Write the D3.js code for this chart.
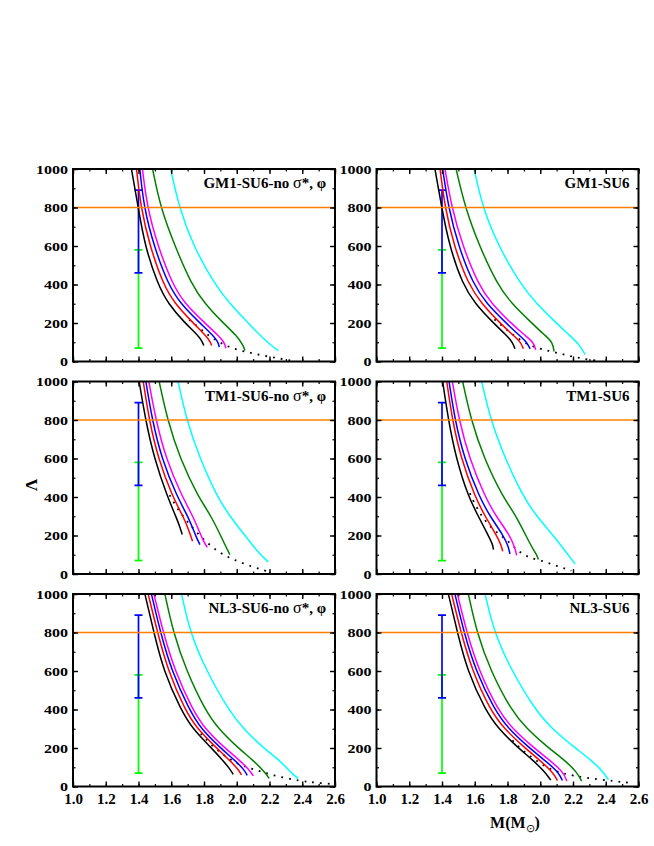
<!DOCTYPE html>
<html>
<head>
<meta charset="utf-8">
<script src="https://cdn.jsdelivr.net/npm/d3@7"></script>
<style>
  html, body { margin: 0; padding: 0; background: #fff; }
  svg { display: block; }
  text { font-family: "Liberation Serif", "Times New Roman", serif; font-weight: bold; fill: #000; }
</style>
</head>
<body>
<script>
// ---------------- DATA ----------------
// Series order: black, red, blue, magenta, dark green, cyan ; each point = [M (Msun), Lambda]
const seriesColors = ["#000000", "#ff0000", "#0000ff", "#ff00ff", "#008000", "#00ffff"];

const panelTitles = [
  ["GM1-SU6-no ", "σ", "*, φ"], ["GM1-SU6"],
  ["TM1-SU6-no ", "σ", "*, φ"], ["TM1-SU6"],
  ["NL3-SU6-no ", "σ", "*, φ"], ["NL3-SU6"]
];

const gm1NoCurves = [
  [[1.357,1000],[1.398,800],[1.439,600],[1.518,400],[1.581,300],[1.683,200],[1.765,135],[1.791,101],[1.799,83]],
  [[1.388,1000],[1.414,800],[1.469,600],[1.551,400],[1.622,300],[1.734,200],[1.811,135],[1.840,101],[1.846,83]],
  [[1.408,1000],[1.433,800],[1.494,600],[1.581,400],[1.657,300],[1.775,200],[1.856,135],[1.887,101],[1.893,75]],
  [[1.424,1000],[1.453,800],[1.518,600],[1.608,400],[1.683,300],[1.805,200],[1.887,135],[1.923,101],[1.934,69]],
  [[1.486,1000],[1.534,800],[1.622,600],[1.724,400],[1.805,300],[1.917,200],[1.999,135],[2.040,83],[2.050,57]],
  [[1.596,1000],[1.648,800],[1.734,600],[1.866,400],[1.958,300],[2.070,200],[2.162,118],[2.223,75],[2.253,57]]
];
const gm1NoDotted = [[1.71,217],[1.77,175],[1.82,140],[1.87,112],[1.92,88],[1.97,70],[2.02,57],[2.07,48],[2.12,38],[2.18,28],[2.24,19],[2.30,9],[2.36,2]];

const gm1Curves = [
  [[1.357,1000],[1.398,800],[1.445,600],[1.526,400],[1.602,300],[1.714,200],[1.795,135],[1.830,101],[1.846,66]],
  [[1.388,1000],[1.418,800],[1.473,600],[1.561,400],[1.642,300],[1.754,200],[1.836,135],[1.881,101],[1.897,66]],
  [[1.404,1000],[1.439,800],[1.500,600],[1.591,400],[1.673,300],[1.791,200],[1.873,135],[1.917,101],[1.938,66]],
  [[1.418,1000],[1.459,800],[1.526,600],[1.622,400],[1.703,300],[1.820,200],[1.907,135],[1.958,101],[1.972,61]],
  [[1.486,1000],[1.541,800],[1.628,600],[1.738,400],[1.826,300],[1.948,200],[2.029,135],[2.076,101],[2.084,52]],
  [[1.596,1000],[1.648,800],[1.744,600],[1.881,400],[1.978,300],[2.097,200],[2.182,135],[2.243,83],[2.274,36]]
];
const gm1Dotted = [[1.72,219],[1.775,179],[1.826,144],[1.881,109],[1.938,83],[1.999,66],[2.05,56],[2.10,45],[2.15,36],[2.20,24],[2.25,17],[2.30,9],[2.355,3]];

const tm1NoCurves = [
  [[1.404,1000],[1.443,800],[1.496,600],[1.577,400],[1.628,300],[1.657,235],[1.667,205]],
  [[1.429,1000],[1.465,800],[1.520,600],[1.608,400],[1.673,300],[1.710,222],[1.730,170]],
  [[1.445,1000],[1.484,800],[1.541,600],[1.636,400],[1.703,300],[1.754,188],[1.775,153]],
  [[1.463,1000],[1.506,800],[1.567,600],[1.667,400],[1.734,300],[1.795,170],[1.820,139]],
  [[1.526,1000],[1.577,800],[1.653,600],[1.765,400],[1.846,300],[1.927,153],[1.958,101]],
  [[1.642,1000],[1.693,800],[1.775,600],[1.881,400],[1.958,300],[2.050,200],[2.141,101],[2.192,63]]
];
const tm1NoDotted = [[1.59,410],[1.63,350],[1.68,290],[1.73,240],[1.78,195],[1.83,155],[1.88,120],[1.93,95],[1.98,75],[2.04,55],[2.10,36],[2.15,23],[2.19,14]];

const tm1Curves = [
  [[1.404,1000],[1.439,800],[1.486,600],[1.561,400],[1.622,300],[1.683,200],[1.710,153],[1.714,127]],
  [[1.429,1000],[1.463,800],[1.516,600],[1.602,400],[1.663,300],[1.734,200],[1.760,153],[1.771,118]],
  [[1.443,1000],[1.479,800],[1.536,600],[1.628,400],[1.693,300],[1.775,200],[1.805,144],[1.815,104]],
  [[1.463,1000],[1.504,800],[1.567,600],[1.663,400],[1.730,300],[1.815,200],[1.846,135],[1.856,97]],
  [[1.526,1000],[1.577,800],[1.657,600],[1.771,400],[1.856,300],[1.938,153],[1.978,101],[1.989,75]],
  [[1.642,1000],[1.697,800],[1.785,600],[1.897,400],[1.978,300],[2.080,200],[2.162,109],[2.213,52]]
];
const tm1Dotted = [[1.57,420],[1.61,345],[1.65,292],[1.70,240],[1.76,200],[1.81,165],[1.85,132],[1.89,104],[1.94,83],[2.03,64],[2.09,45],[2.15,28],[2.19,17]];

const nl3NoCurves = [
  [[1.439,1000],[1.494,800],[1.553,600],[1.658,400],[1.730,300],[1.846,200],[1.915,135],[1.958,92],[1.978,63]],
  [[1.459,1000],[1.516,800],[1.581,600],[1.683,400],[1.758,300],[1.877,200],[1.958,135],[2.009,89],[2.029,60]],
  [[1.479,1000],[1.534,800],[1.602,600],[1.710,400],[1.781,300],[1.901,200],[1.989,135],[2.044,89],[2.064,58]],
  [[1.494,1000],[1.551,800],[1.622,600],[1.730,400],[1.805,300],[1.927,200],[2.019,135],[2.080,83],[2.101,55]],
  [[1.561,1000],[1.612,800],[1.693,600],[1.805,400],[1.887,300],[2.009,200],[2.101,135],[2.172,75],[2.198,42]],
  [[1.663,1000],[1.714,800],[1.815,600],[1.948,400],[2.040,300],[2.162,200],[2.264,135],[2.345,60],[2.376,42]]
];
const nl3NoDotted = [[1.78,275],[1.84,220],[1.90,175],[1.96,140],[2.02,112],[2.08,95],[2.14,80],[2.20,63],[2.29,45],[2.38,31],[2.45,23],[2.51,17],[2.59,13]];

const nl3Curves = [
  [[1.439,1000],[1.494,800],[1.555,600],[1.663,400],[1.744,300],[1.866,200],[1.958,135],[2.029,75],[2.064,33]],
  [[1.459,1000],[1.516,800],[1.585,600],[1.693,400],[1.779,300],[1.907,200],[1.999,135],[2.076,75],[2.105,31]],
  [[1.479,1000],[1.534,800],[1.606,600],[1.720,400],[1.805,300],[1.934,200],[2.029,135],[2.111,75],[2.135,31]],
  [[1.494,1000],[1.551,800],[1.626,600],[1.740,400],[1.830,300],[1.962,200],[2.060,135],[2.141,75],[2.162,28]],
  [[1.561,1000],[1.612,800],[1.697,600],[1.820,400],[1.917,300],[2.050,200],[2.152,135],[2.223,75],[2.253,28]],
  [[1.663,1000],[1.718,800],[1.826,600],[1.968,400],[2.070,300],[2.213,200],[2.314,135],[2.386,75],[2.416,35]]
];
const nl3Dotted = [[1.83,240],[1.89,188],[1.96,144],[2.02,109],[2.08,83],[2.14,68],[2.20,57],[2.28,45],[2.37,36],[2.45,28],[2.51,22],[2.57,17]];

const panelCurves = [gm1NoCurves, gm1Curves, tm1NoCurves, tm1Curves, nl3NoCurves, nl3Curves];
const panelDotted = [gm1NoDotted, gm1Dotted, tm1NoDotted, tm1Dotted, nl3NoDotted, nl3Dotted];

// constraints at M = 1.4: [low, high]
const errorBarMass = 1.4;
const errorBarRanges = [[70, 580], [460, 890]];
const errorBarColors = ["#00ff00", "#0000ff"];
const refLambda = 800;
const refColor = "#ff8000";

const xDomain = [1.0, 2.6];
const yDomain = [0, 1000];
const xMajorTicks = [1.0, 1.2, 1.4, 1.6, 1.8, 2.0, 2.2, 2.4, 2.6];
const yMajorTicks = [0, 200, 400, 600, 800, 1000];

// ---------------- LAYOUT ----------------
const W = 654, H = 846;
const colX = [73, 376.5];
const rowY = [169, 381.5, 594];
const pw = 262, ph = 192.5;

const svg = d3.select("body").append("svg").attr("width", W).attr("height", H);

const x = d3.scaleLinear().domain(xDomain).range([0, pw]);
const y = d3.scaleLinear().domain(yDomain).range([ph, 0]);
const xMinor = d3.range(1.0, 2.6001, 0.1).map(v => +v.toFixed(1));
const yMinor = d3.range(0, 1001, 100);

const line = d3.line().x(d => x(d[0])).y(d => y(d[1])).curve(d3.curveBasis);

panelCurves.forEach((curves, i) => {
  const col = i % 2, row = Math.floor(i / 2);
  const g = svg.append("g").attr("transform", `translate(${colX[col]},${rowY[row]})`);

  const clipId = "clip" + i;
  g.append("clipPath").attr("id", clipId).append("rect").attr("width", pw).attr("height", ph);
  const plot = g.append("g").attr("clip-path", `url(#${clipId})`);

  // error bars
  errorBarRanges.forEach((r, k) => {
    const eb = plot.append("g").attr("stroke", errorBarColors[k]).attr("stroke-width", 1.7);
    const cx = x(errorBarMass);
    eb.append("line").attr("x1", cx).attr("x2", cx).attr("y1", y(r[0])).attr("y2", y(r[1]));
    r.forEach(v => eb.append("line").attr("x1", cx - 4).attr("x2", cx + 4).attr("y1", y(v)).attr("y2", y(v)));
  });

  // dotted curve
  plot.append("path").datum(panelDotted[i]).attr("d", line)
    .attr("fill", "none").attr("stroke", "#000").attr("stroke-width", 1.8)
    .attr("stroke-dasharray", "1.8,6");

  // curves
  curves.forEach((c, k) => {
    plot.append("path").datum(c).attr("d", line)
      .attr("fill", "none").attr("stroke", seriesColors[k]).attr("stroke-width", 1.5);
  });

  // reference line
  plot.append("line").attr("x1", 0).attr("x2", pw).attr("y1", y(refLambda)).attr("y2", y(refLambda))
    .attr("stroke", refColor).attr("stroke-width", 1.6);

  // axes with inward ticks
  const showX = row === 2;
  const axes = [
    { ax: d3.axisBottom(x), tr: `translate(0,${ph})`, major: xMajorTicks, minor: xMinor, labels: showX, fmt: d3.format(".1f"), pad: 7, fs: 15 },
    { ax: d3.axisTop(x), tr: `translate(0,0)`, major: xMajorTicks, minor: xMinor, labels: false, pad: 5, fs: 15 },
    { ax: d3.axisLeft(y), tr: `translate(0,0)`, major: yMajorTicks, minor: yMinor, labels: true, fmt: d3.format("d"), pad: 5, fs: 13.5 },
    { ax: d3.axisRight(y), tr: `translate(${pw},0)`, major: yMajorTicks, minor: yMinor, labels: false, pad: 5, fs: 15 }
  ];
  axes.forEach(a => {
    const gm = g.append("g").attr("transform", a.tr)
      .call(a.ax.tickValues(a.minor).tickSize(-2.5).tickFormat(""));
    gm.select(".domain").remove();
    gm.selectAll("line").attr("stroke-width", 1.2);
    const gM = g.append("g").attr("transform", a.tr)
      .call(a.ax.tickValues(a.major).tickSize(-5).tickPadding(a.pad)
        .tickFormat(a.labels ? a.fmt : ""));
    gM.select(".domain").remove();
    gM.selectAll("line").attr("stroke-width", 1.4);
    gM.selectAll("text").style("font-family", '"Liberation Serif", serif')
      .style("font-weight", "bold").style("font-size", a.fs + "px").attr("fill", "#000");
    if (a === axes[2]) {
      gM.selectAll("text")
        .attr("textLength", d => String(d).length * 8)
        .attr("lengthAdjust", "spacingAndGlyphs");
    }
  });

  // frame
  g.append("rect").attr("width", pw).attr("height", ph)
    .attr("fill", "none").attr("stroke", "#000").attr("stroke-width", 2);

  // title
  const t = g.append("text").attr("x", pw - 9).attr("y", 19).attr("text-anchor", "end")
    .style("font-size", "15px");
  panelTitles[i].forEach((s, k) => {
    const ts = t.append("tspan").text(s);
    if (s === "σ") ts.style("font-weight", "normal").style("font-size", "16px");
  });
});

// axis titles
svg.append("text").attr("transform", "translate(37,485) rotate(-90)")
  .attr("text-anchor", "middle").style("font-size", "17px").text("Λ");

const xl = svg.append("text").attr("x", 515).attr("y", 828).attr("text-anchor", "middle")
  .style("font-size", "16px");
xl.append("tspan").text("M(M");
xl.append("tspan").attr("dy", 4).style("font-size", "11px").style("font-weight", "normal").text("⊙");
xl.append("tspan").attr("dy", -4).text(")");
</script>
</body>
</html>
